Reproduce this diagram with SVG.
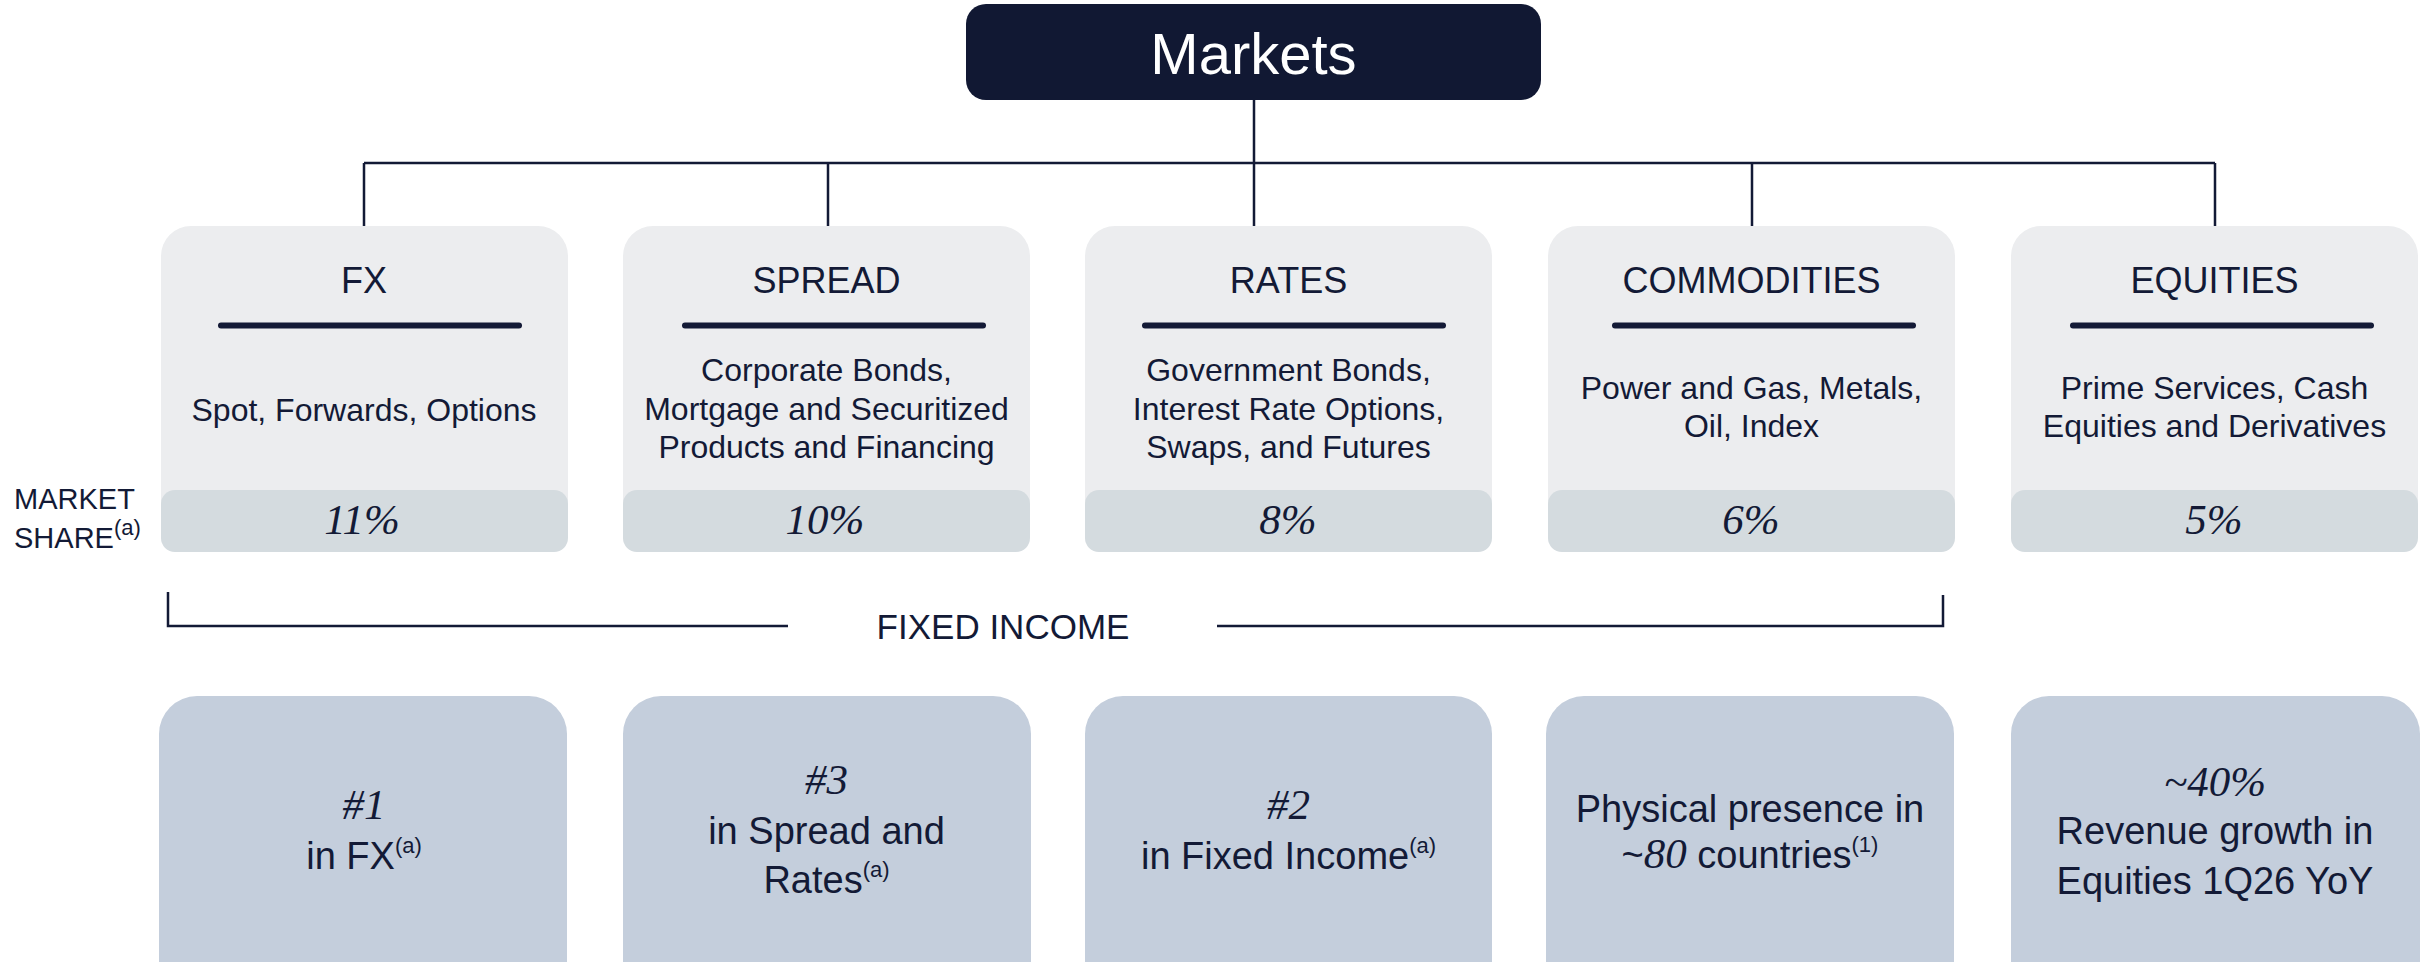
<svg xmlns="http://www.w3.org/2000/svg" width="2435" height="962" viewBox="0 0 2435 962">
<style>
text{font-family:"Liberation Sans","Noto Sans",Arial,sans-serif;fill:#131a36}
.title{font-size:36px;text-anchor:middle}
.desc{font-size:32px;text-anchor:middle}
.pct{font-family:"Liberation Serif","DejaVu Serif",serif;font-style:italic;font-size:43px;text-anchor:middle}
.big{font-size:38px;text-anchor:middle}
.ser{font-family:"Liberation Serif","DejaVu Serif",serif;font-style:italic;font-size:43px}
.sup{font-size:22px}
.card{fill:#ecedef}
.bar{fill:#d4dbdf}
.stat{fill:#c4cedc}
.rule{stroke:#131a36;stroke-width:6;stroke-linecap:round}
.conn{fill:none;stroke:#131a36;stroke-width:2.5}
</style>

<g id="markets">
<rect x="966" y="4" width="575" height="96" rx="20" fill="#111833"/>
<text x="1253.5" y="74" font-size="58" text-anchor="middle" style="fill:#ffffff">Markets</text>
</g>

<g id="connectors">
<path class="conn" d="M1254 100V232M364 163H2215M364 163V226M828 163V232M1752 163V226M2215 163V226"/>
<path class="conn" d="M168 592V626H788M1217 626H1943V595"/>
</g>

<g id="market-share-label">
<text x="14" y="509" font-size="29">MARKET</text>
<text x="14" y="548" font-size="29">SHARE<tspan class="sup" dy="-13">(a)</tspan></text>
</g>

<g id="fx">
<rect class="card" x="161" y="226" width="407" height="326" rx="30"/>
<rect class="bar" x="161" y="490" width="407" height="62" rx="14"/>
<text class="title" x="364" y="293">FX</text>
<line class="rule" x1="221" y1="325.5" x2="519" y2="325.5"/>
<text class="desc" x="364" y="421">Spot, Forwards, Options</text>
<text class="pct" x="362" y="534">11%</text>
</g>

<g id="spread">
<rect class="card" x="623" y="226" width="407" height="326" rx="30"/>
<rect class="bar" x="623" y="490" width="407" height="62" rx="14"/>
<text class="title" x="826.5" y="293">SPREAD</text>
<line class="rule" x1="685" y1="325.5" x2="983" y2="325.5"/>
<text class="desc" x="826.5" y="381">Corporate Bonds,</text>
<text class="desc" x="826.5" y="419.5">Mortgage and Securitized</text>
<text class="desc" x="826.5" y="458">Products and Financing</text>
<text class="pct" x="825" y="534">10%</text>
</g>

<g id="rates">
<rect class="card" x="1085" y="226" width="407" height="326" rx="30"/>
<rect class="bar" x="1085" y="490" width="407" height="62" rx="14"/>
<text class="title" x="1288.5" y="293">RATES</text>
<line class="rule" x1="1145" y1="325.5" x2="1443" y2="325.5"/>
<text class="desc" x="1288.5" y="381">Government Bonds,</text>
<text class="desc" x="1288.5" y="419.5">Interest Rate Options,</text>
<text class="desc" x="1288.5" y="458">Swaps, and Futures</text>
<text class="pct" x="1288" y="534">8%</text>
</g>

<g id="commodities">
<rect class="card" x="1548" y="226" width="407" height="326" rx="30"/>
<rect class="bar" x="1548" y="490" width="407" height="62" rx="14"/>
<text class="title" x="1751.5" y="293">COMMODITIES</text>
<line class="rule" x1="1615" y1="325.5" x2="1913" y2="325.5"/>
<text class="desc" x="1751.5" y="399">Power and Gas, Metals,</text>
<text class="desc" x="1751.5" y="437">Oil, Index</text>
<text class="pct" x="1751" y="534">6%</text>
</g>

<g id="equities">
<rect class="card" x="2011" y="226" width="407" height="326" rx="30"/>
<rect class="bar" x="2011" y="490" width="407" height="62" rx="14"/>
<text class="title" x="2214.5" y="293">EQUITIES</text>
<line class="rule" x1="2073" y1="325.5" x2="2371" y2="325.5"/>
<text class="desc" x="2214.5" y="399">Prime Services, Cash</text>
<text class="desc" x="2214.5" y="437">Equities and Derivatives</text>
<text class="pct" x="2214" y="534">5%</text>
</g>

<g id="fixed-income">
<text x="1003" y="639" font-size="35" text-anchor="middle">FIXED INCOME</text>
</g>

<g id="stat-fx">
<rect class="stat" x="159" y="696" width="408" height="320" rx="38"/>
<text class="pct" x="364" y="819">#1</text>
<text class="big" x="364" y="869">in FX<tspan class="sup" dy="-16">(a)</tspan></text>
</g>

<g id="stat-spread">
<rect class="stat" x="623" y="696" width="408" height="320" rx="38"/>
<text class="pct" x="826.5" y="794">#3</text>
<text class="big" x="826.5" y="844">in Spread and</text>
<text class="big" x="826.5" y="893">Rates<tspan class="sup" dy="-16">(a)</tspan></text>
</g>

<g id="stat-rates">
<rect class="stat" x="1085" y="696" width="407" height="320" rx="38"/>
<text class="pct" x="1288.5" y="819">#2</text>
<text class="big" x="1288.5" y="869">in Fixed Income<tspan class="sup" dy="-16">(a)</tspan></text>
</g>

<g id="stat-commodities">
<rect class="stat" x="1546" y="696" width="408" height="320" rx="38"/>
<text class="big" x="1750" y="822">Physical presence in</text>
<text class="big" x="1750" y="868">~<tspan class="ser">80</tspan> countries<tspan class="sup" dy="-16">(1)</tspan></text>
</g>

<g id="stat-equities">
<rect class="stat" x="2011" y="696" width="409" height="320" rx="38"/>
<text class="pct" x="2215" y="796">~40%</text>
<text class="big" x="2215" y="844">Revenue growth in</text>
<text class="big" x="2215" y="894">Equities 1Q26 YoY</text>
</g>
</svg>
